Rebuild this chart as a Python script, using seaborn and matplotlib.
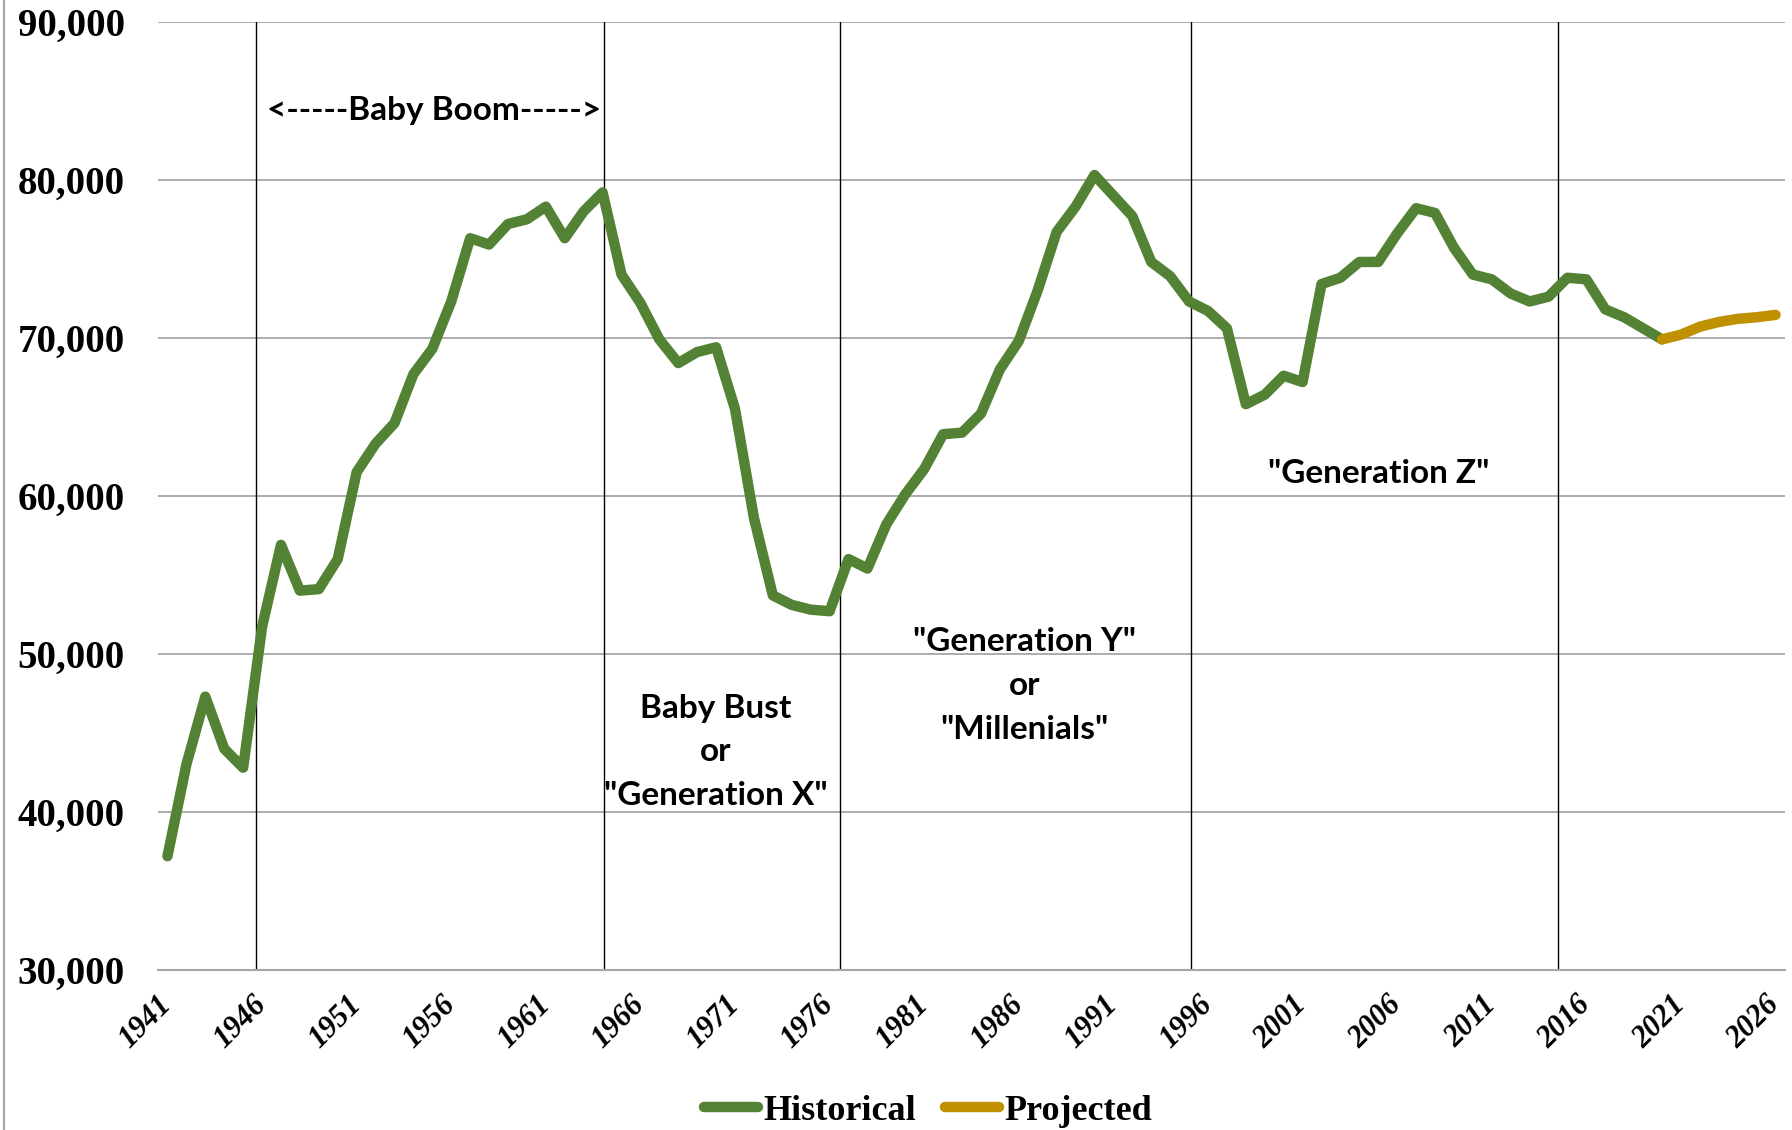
import numpy as np
import seaborn as sns
import matplotlib.pyplot as plt
from matplotlib.ticker import FuncFormatter
from matplotlib.lines import Line2D

# data
hist_years = np.arange(1941, 2021)
hist_births = [37200, 43000, 47300, 44000, 42800, 51700, 56900, 54000, 54100, 56000,
               61500, 63300, 64600, 67700, 69300, 72300, 76300, 75900, 77200, 77500,
               78300, 76300, 78000, 79200, 74000, 72200, 69900, 68400, 69100, 69400,
               65500, 58600, 53700, 53100, 52800, 52700, 56000, 55400, 58200, 60100,
               61700, 63900, 64000, 65200, 68000, 69800, 73000, 76700, 78300, 80300,
               79000, 77700, 74800, 73900, 72300, 71700, 70600, 65800, 66400, 67600,
               67200, 73400, 73800, 74800, 74800, 76600, 78200, 77900, 75700, 74000,
               73700, 72800, 72300, 72600, 73800, 73700, 71800, 71300, 70600, 69900]
proj_years = np.arange(2020, 2027)
proj_births = [69900, 70200, 70700, 71000, 71200, 71300, 71450]

tick_years = np.arange(1941, 2027, 5)
dividers = [1945.7, 1964.1, 1976.55, 1995.1, 2014.5]

labels = [
    ("<-----Baby Boom----->", 1955.1, 84400),
    ("Baby Bust\nor\n\"Generation X\"", 1970.0, 43800),
    ("\"Generation Y\"\nor\n\"Millenials\"", 1986.3, 48000),
    ("\"Generation Z\"", 2005.0, 61400),
]

green = "#548235"
gold = "#BF9000"

sns.set_theme(style="white")
plt.rcParams['font.family'] = ['Liberation Serif', 'DejaVu Serif']
plt.rcParams['text.color'] = 'black'

fig = plt.figure(figsize=(17.92, 11.30), dpi=100)
ax = fig.add_axes([158/1792, 1 - 970/1130, (1785 - 158)/1792, (970 - 21.7)/1130])

sns.lineplot(x=hist_years, y=hist_births, color=green, lw=7.5,
             solid_capstyle='round', solid_joinstyle='round', label='Historical', ax=ax)
sns.lineplot(x=proj_years, y=proj_births, color=gold, lw=7.5,
             solid_capstyle='round', solid_joinstyle='round', label='Projected', ax=ax)

for d in dividers:
    ax.axvline(d, color='black', lw=1, zorder=1)

ax.set_xlim(1940.5, 2026.5)
ax.set_ylim(30000, 90000)
ax.set_yticks(np.arange(30000, 90001, 10000))
ax.yaxis.set_major_formatter(FuncFormatter(lambda v, p: f"{int(v):,}"))
ax.set_xticks(tick_years)
ax.set_xticklabels([str(y) for y in tick_years], rotation=45, ha='right',
                   va='center', rotation_mode='anchor',
                   fontstyle='italic', fontweight='bold', fontsize=22)
for t in ax.get_yticklabels():
    t.set_fontweight('bold')
    t.set_fontsize(28)
ax.tick_params(axis='y', length=0, pad=24, colors='black')
ax.tick_params(axis='x', length=0, pad=22, colors='black')
ax.set_xlabel('')
ax.set_ylabel('')

ax.grid(axis='y', color='#a6a6a6', lw=1.3)
ax.grid(axis='x', visible=False)
for s in ['left', 'top', 'right']:
    ax.spines[s].set_visible(False)
ax.spines['bottom'].set_color('#a6a6a6')
ax.spines['bottom'].set_linewidth(1.5)

for txt, x, y in labels:
    ax.text(x, y, txt, ha='center', va='center', fontsize=24, fontweight='bold',
            family=['Lato', 'DejaVu Sans'], linespacing=1.62, color='black')

handles, names = ax.get_legend_handles_labels()
ax.get_legend().remove()
fig.legend(handles, names, loc='center', bbox_to_anchor=(928/1792, 19/1130),
           ncol=2, frameon=False, handlelength=1.5, handletextpad=0.15,
           columnspacing=0.8, labelcolor='black',
           prop={'family': 'Liberation Serif', 'weight': 'bold', 'size': 26})

fig.add_artist(Line2D([4/1792, 4/1792], [0, 1], transform=fig.transFigure,
                      color='#a6a6a6', lw=1.5))

fig.savefig('out.png', dpi=100, facecolor='white')
